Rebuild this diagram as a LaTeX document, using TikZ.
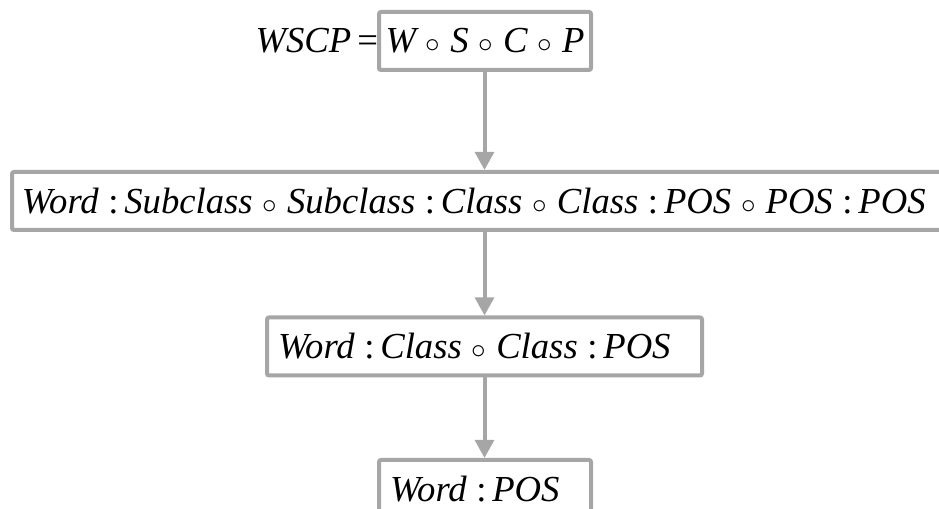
\documentclass[tikz,border=0pt]{standalone}
\usepackage{fontspec}
\setmainfont{Liberation Serif}
\usetikzlibrary{arrows.meta}
\definecolor{bx}{HTML}{A6A6A6}
\newcommand\mycol{\hspace{0.26em}{\upshape:}\hspace{0.16em}}
\newcommand\myo{\hspace{0.27em}\scalebox{0.88}{$\circ$}\hspace{0.27em}}
\begin{document}
\begin{tikzpicture}[x=0.75pt,y=-0.75pt,
  font=\fontsize{27.5}{30}\selectfont\itshape,
  box/.style={draw=bx, line width=3pt, fill=white, inner xsep=0pt, inner ysep=0pt,
    minimum height=43.5pt, rounded corners=1.5pt},
  arr/.style={draw=bx, line width=3pt, -{Triangle[length=13.5pt,width=14pt]}}]
\useasboundingbox (0,0) rectangle (939,509);
\clip (0,0) rectangle (939,509);
\coordinate (ax) at (484.5,0);
\node[box] (b1) at (485,41) {\makebox[159pt][c]{W\myo S\myo C\myo P}};
\node[box, anchor=west] (b2) at (10,201)
  {\makebox[706pt][l]{\hspace{7.5pt}Word\mycol Subclass\myo Subclass\mycol Class\myo Class\mycol POS\myo POS\mycol POS}};
\node[box] (b3) at (484.5,346.5) {\makebox[326.25pt][l]{\hspace{8.25pt}Word\mycol Class\myo Class\mycol POS}};
\node[box, anchor=north west] (b4) at (377,458) {\makebox[159pt][l]{\hspace{8.25pt}Word\mycol POS}};
\node[anchor=base east, inner sep=0pt] (lhs) at ([xshift=1pt]b1.base west) {WSCP\,{\upshape=}};
\draw[arr] (ax |- b1.south) -- (ax |- b2.north);
\draw[arr] (ax |- b2.south) -- (ax |- b3.north);
\draw[arr] (ax |- b3.south) -- (ax |- b4.north);
\end{tikzpicture}
\end{document}
